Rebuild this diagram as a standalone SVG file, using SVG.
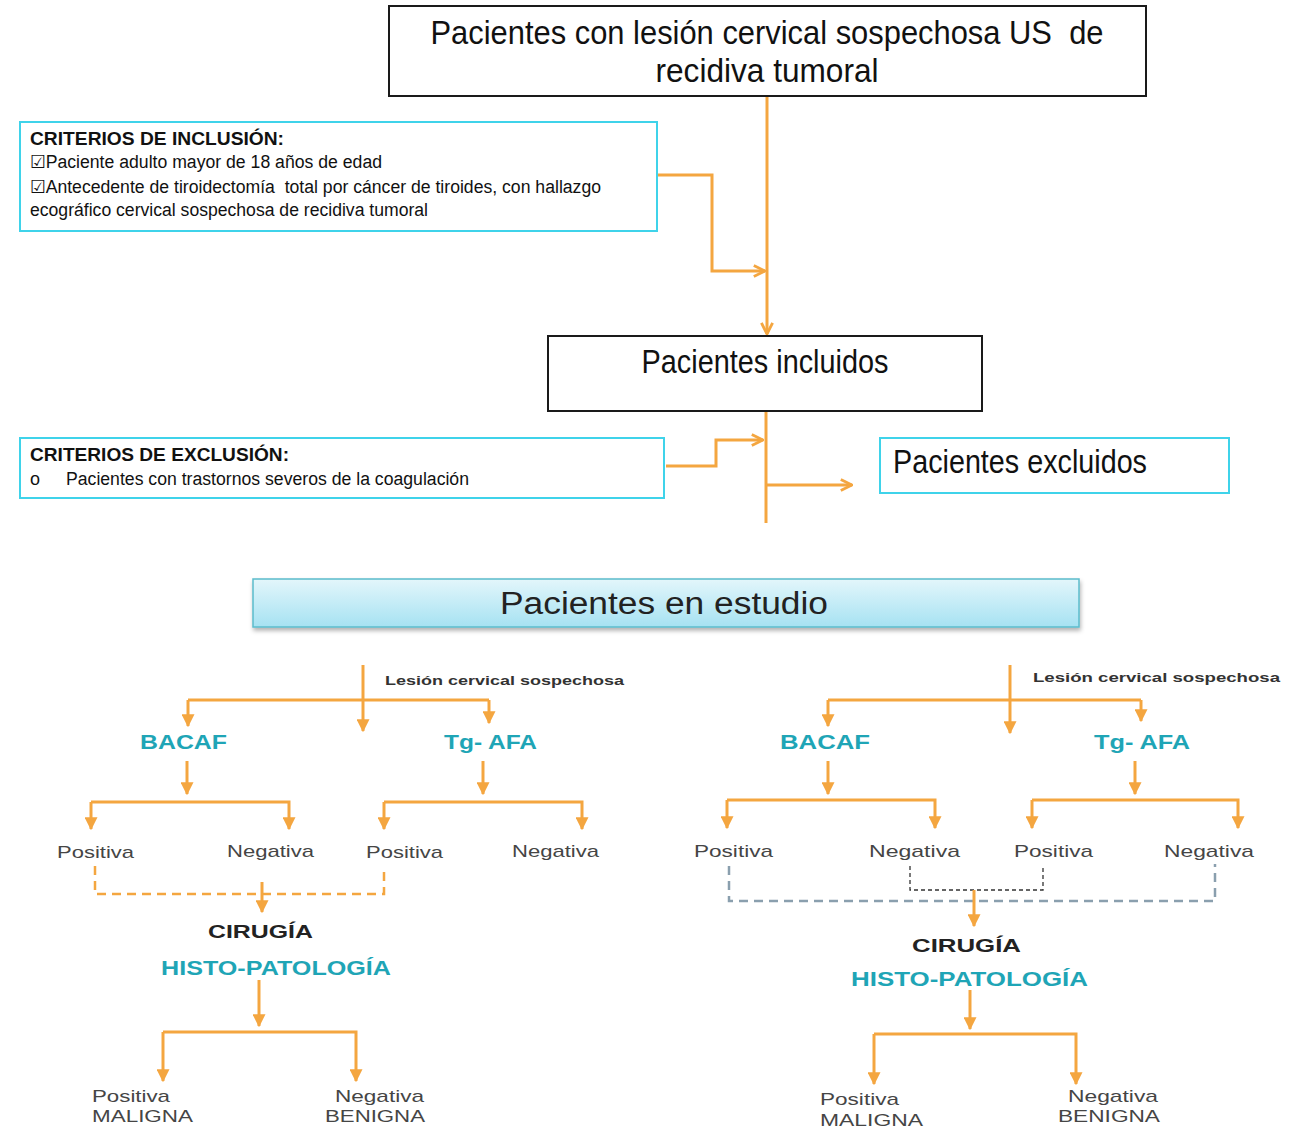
<svg xmlns="http://www.w3.org/2000/svg" width="1304" height="1130" viewBox="0 0 1304 1130">
<defs>
<marker id="arr" viewBox="0 0 10 10" refX="9" refY="5" markerWidth="13" markerHeight="13" markerUnits="userSpaceOnUse" orient="auto"><path d="M0,0 L10,5 L0,10 z" fill="#f4a640"/></marker>
<marker id="chev" viewBox="0 0 10 10" refX="9" refY="5" markerWidth="14" markerHeight="14" markerUnits="userSpaceOnUse" orient="auto"><path d="M1,1 L9,5 L1,9" fill="none" stroke="#f4a640" stroke-width="2"/></marker>
<linearGradient id="g" x1="0" y1="0" x2="0" y2="1"><stop offset="0" stop-color="#e3f6fb"/><stop offset="1" stop-color="#a6e2f2"/></linearGradient>
<filter id="sh" x="-5%" y="-20%" width="110%" height="150%"><feDropShadow dx="1" dy="3" stdDeviation="2" flood-color="#000" flood-opacity="0.3"/></filter>
</defs>
<style>
.bk{fill:#fff;stroke:#1a1a1a;stroke-width:2}
.cy{fill:#fff;stroke:#3fd3ea;stroke-width:2}
.nar{font-family:"Liberation Sans Narrow","Liberation Sans",Arial,sans-serif;fill:#111}
.big{font-size:34px}
.crit{font-size:18px}
.pre{white-space:pre}
.sans{font-family:"Liberation Sans",Arial,sans-serif}
.lbl{font-size:17px;fill:#454545}
.teal{font-size:20px;font-weight:bold;fill:#1fa5b6}
.dark{font-size:19px;font-weight:bold;fill:#222}
.les{font-size:13px;font-weight:bold;fill:#333}
.c{fill:none;stroke:#f4a640;stroke-width:3}
</style>
<g id="connectors">
<path class="c" d="M767,97 V334" marker-end="url(#chev)"/>
<path class="c" d="M658,175 H712 V271 H765" marker-end="url(#chev)"/>
<path class="c" d="M666,466 H716 V440 H763" marker-end="url(#chev)"/>
<path class="c" d="M766,412 V523"/>
<path class="c" d="M766,485 H852" marker-end="url(#chev)"/>
<path class="c" d="M363,665 V731" marker-end="url(#arr)"/>
<path class="c" d="M188,700 H489"/>
<path class="c" d="M188,700 V726" marker-end="url(#arr)"/>
<path class="c" d="M489,700 V723" marker-end="url(#arr)"/>
<path class="c" d="M187,761 V794" marker-end="url(#arr)"/>
<path class="c" d="M91,802 H289 V829" marker-end="url(#arr)"/>
<path class="c" d="M91,802 V829" marker-end="url(#arr)"/>
<path class="c" d="M483,761 V794" marker-end="url(#arr)"/>
<path class="c" d="M384,802 H582 V829" marker-end="url(#arr)"/>
<path class="c" d="M384,802 V829" marker-end="url(#arr)"/>
<path class="c" d="M95,866 V894 H384 V866" stroke-dasharray="9 6" style="stroke-width:2.5"/>
<path class="c" d="M262,882 V912" marker-end="url(#arr)"/>
<path class="c" d="M259,980 V1026" marker-end="url(#arr)"/>
<path class="c" d="M163,1032 H356 V1081" marker-end="url(#arr)"/>
<path class="c" d="M163,1032 V1081" marker-end="url(#arr)"/>
<path class="c" d="M1010,665 V733" marker-end="url(#arr)"/>
<path class="c" d="M828,700 H1141"/>
<path class="c" d="M828,700 V726" marker-end="url(#arr)"/>
<path class="c" d="M1141,700 V721" marker-end="url(#arr)"/>
<path class="c" d="M828,761 V794" marker-end="url(#arr)"/>
<path class="c" d="M727,800 H935 V828" marker-end="url(#arr)"/>
<path class="c" d="M727,800 V828" marker-end="url(#arr)"/>
<path class="c" d="M1135,761 V794" marker-end="url(#arr)"/>
<path class="c" d="M1032,800 H1238 V828" marker-end="url(#arr)"/>
<path class="c" d="M1032,800 V828" marker-end="url(#arr)"/>
<path d="M729,866 V901 H1215 V864" fill="none" stroke="#8a9fae" stroke-width="2.5" stroke-dasharray="9 6"/>
<path d="M910,866 V890 H1043 V866" fill="none" stroke="#333" stroke-width="1.3" stroke-dasharray="4 3"/>
<path class="c" d="M974,890 V926" marker-end="url(#arr)"/>
<path class="c" d="M970,990 V1029" marker-end="url(#arr)"/>
<path class="c" d="M874,1034 H1076 V1084" marker-end="url(#arr)"/>
<path class="c" d="M874,1034 V1084" marker-end="url(#arr)"/>
</g>
<g id="n-top">
<rect class="bk" x="389" y="6" width="757" height="90"/>
<text class="nar big pre" x="767" y="44" text-anchor="middle" textLength="673" lengthAdjust="spacingAndGlyphs">Pacientes con lesión cervical sospechosa US  de</text>
<text class="nar big" x="767" y="82" text-anchor="middle" textLength="223" lengthAdjust="spacingAndGlyphs">recidiva tumoral</text>
</g>
<g id="n-inclusion">
<rect class="cy" x="20" y="122" width="637" height="109"/>
<text class="nar crit" x="30" y="145" font-weight="bold" textLength="254" lengthAdjust="spacingAndGlyphs">CRITERIOS DE INCLUSIÓN:</text>
<text class="nar crit" x="30" y="168" textLength="352" lengthAdjust="spacingAndGlyphs">☑Paciente adulto mayor de 18 años de edad</text>
<text class="nar crit pre" x="30" y="193" textLength="571" lengthAdjust="spacingAndGlyphs">☑Antecedente de tiroidectomía  total por cáncer de tiroides, con hallazgo</text>
<text class="nar crit" x="30" y="216" textLength="398" lengthAdjust="spacingAndGlyphs">ecográfico cervical sospechosa de recidiva tumoral</text>
</g>
<g id="n-incluidos">
<rect class="bk" x="548" y="336" width="434" height="75"/>
<text class="nar big" x="765" y="373" text-anchor="middle" textLength="247" lengthAdjust="spacingAndGlyphs">Pacientes incluidos</text>
</g>
<g id="n-exclusion">
<rect class="cy" x="20" y="438" width="644" height="60"/>
<text class="nar crit" x="30" y="461" font-weight="bold" textLength="259" lengthAdjust="spacingAndGlyphs">CRITERIOS DE EXCLUSIÓN:</text>
<text class="nar crit" x="30" y="485">o</text>
<text class="nar crit" x="66" y="485" textLength="403" lengthAdjust="spacingAndGlyphs">Pacientes con trastornos severos de la coagulación</text>
</g>
<g id="n-excluidos">
<rect class="cy" x="880" y="438" width="349" height="55"/>
<text class="nar big" x="893" y="473" textLength="254" lengthAdjust="spacingAndGlyphs">Pacientes excluidos</text>
</g>
<g id="n-estudio">
<rect x="253" y="579" width="826" height="48" fill="url(#g)" stroke="#5bbccc" stroke-width="1.5" filter="url(#sh)"/>
<text class="sans" x="664" y="614" text-anchor="middle" font-size="31" fill="#222" textLength="328" lengthAdjust="spacingAndGlyphs">Pacientes en estudio</text>
</g>
<g id="n-left-tree">
<text class="sans les" x="385" y="685" textLength="239" lengthAdjust="spacingAndGlyphs">Lesión cervical sospechosa</text>
<text class="sans teal" x="140" y="749" textLength="87" lengthAdjust="spacingAndGlyphs">BACAF</text>
<text class="sans teal" x="444" y="749" textLength="93" lengthAdjust="spacingAndGlyphs">Tg- AFA</text>
<text class="sans lbl" x="57" y="858" textLength="77" lengthAdjust="spacingAndGlyphs">Positiva</text>
<text class="sans lbl" x="227" y="857" textLength="87" lengthAdjust="spacingAndGlyphs">Negativa</text>
<text class="sans lbl" x="366" y="858" textLength="77" lengthAdjust="spacingAndGlyphs">Positiva</text>
<text class="sans lbl" x="512" y="857" textLength="87" lengthAdjust="spacingAndGlyphs">Negativa</text>
<text class="sans dark" x="208" y="938" textLength="105" lengthAdjust="spacingAndGlyphs">CIRUGÍA</text>
<text class="sans teal" x="161" y="975" textLength="230" lengthAdjust="spacingAndGlyphs">HISTO-PATOLOGÍA</text>
<text class="sans lbl" x="92" y="1102" textLength="78" lengthAdjust="spacingAndGlyphs">Positiva</text>
<text class="sans lbl" x="92" y="1122" textLength="101" lengthAdjust="spacingAndGlyphs">MALIGNA</text>
<text class="sans lbl" x="335" y="1102" textLength="89" lengthAdjust="spacingAndGlyphs">Negativa</text>
<text class="sans lbl" x="325" y="1122" textLength="100" lengthAdjust="spacingAndGlyphs">BENIGNA</text>
</g>
<g id="n-right-tree">
<text class="sans les" x="1033" y="682" textLength="247" lengthAdjust="spacingAndGlyphs">Lesión cervical sospechosa</text>
<text class="sans teal" x="780" y="749" textLength="90" lengthAdjust="spacingAndGlyphs">BACAF</text>
<text class="sans teal" x="1094" y="749" textLength="96" lengthAdjust="spacingAndGlyphs">Tg- AFA</text>
<text class="sans lbl" x="694" y="857" textLength="79" lengthAdjust="spacingAndGlyphs">Positiva</text>
<text class="sans lbl" x="869" y="857" textLength="91" lengthAdjust="spacingAndGlyphs">Negativa</text>
<text class="sans lbl" x="1014" y="857" textLength="79" lengthAdjust="spacingAndGlyphs">Positiva</text>
<text class="sans lbl" x="1164" y="857" textLength="90" lengthAdjust="spacingAndGlyphs">Negativa</text>
<text class="sans dark" x="912" y="952" textLength="109" lengthAdjust="spacingAndGlyphs">CIRUGÍA</text>
<text class="sans teal" x="851" y="986" textLength="237" lengthAdjust="spacingAndGlyphs">HISTO-PATOLOGÍA</text>
<text class="sans lbl" x="820" y="1105" textLength="79" lengthAdjust="spacingAndGlyphs">Positiva</text>
<text class="sans lbl" x="820" y="1126" textLength="103" lengthAdjust="spacingAndGlyphs">MALIGNA</text>
<text class="sans lbl" x="1068" y="1102" textLength="90" lengthAdjust="spacingAndGlyphs">Negativa</text>
<text class="sans lbl" x="1058" y="1122" textLength="102" lengthAdjust="spacingAndGlyphs">BENIGNA</text>
</g>
</svg>
